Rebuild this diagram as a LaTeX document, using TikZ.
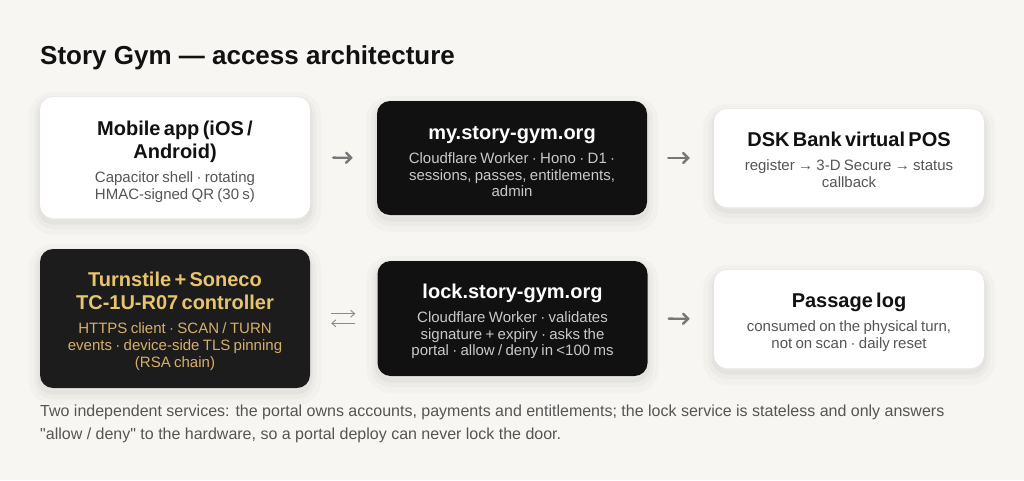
\documentclass[tikz,border=0pt]{standalone}
\usepackage{fontspec}
\setmainfont{Liberation Sans}[Ligatures=TeXOff]
\usetikzlibrary{arrows.meta}
\definecolor{bg}{HTML}{F7F6F3}
\definecolor{ink}{HTML}{111111}
\definecolor{darkfill}{HTML}{111111}
\definecolor{turnfill}{HTML}{1C1C1C}
\definecolor{gold}{HTML}{E9C46F}
\definecolor{golddim}{HTML}{D6B06A}
\definecolor{subgray}{HTML}{555555}
\definecolor{sublight}{HTML}{C9C9C9}
\definecolor{arrowgray}{HTML}{777777}
\definecolor{thingray}{HTML}{8A8A8A}
\newcommand\boxtitle{\fontsize{20}{23}\selectfont\bfseries}
\newcommand\boxsub{\fontsize{15}{16.7}\selectfont\mdseries}
\newcommand\gapts{\par\vskip 7.5pt}
\tikzset{
  card/.style={rounded corners=13pt, minimum width=270pt, inner sep=0pt,
    preaction={draw=black, draw opacity=0.018, line width=22pt, transform canvas={yshift=-6pt}},
    preaction={draw=black, draw opacity=0.022, line width=12pt, transform canvas={yshift=-5pt}},
    preaction={draw=black, draw opacity=0.03, line width=5pt, transform canvas={yshift=-4pt}}},
  whitecard/.style={card, fill=white},
  darkcard/.style={card, fill=darkfill},
  turncard/.style={card, fill=turnfill},
  cardtext/.style={text width=256pt, align=center, inner sep=0pt},
  flow/.style={draw=arrowgray, line width=2.4pt, line cap=round, -{Straight Barb[length=5pt,width=10pt,line cap=round]}},
  swap/.style={draw=thingray, line width=0.9pt, -{Straight Barb[length=4pt,width=7pt]}},
}
\begin{document}
\begin{tikzpicture}[x=1pt,y=-1pt]
\fill[bg] (0,0) rectangle (1024,480);
\useasboundingbox (0,0) rectangle (1024,480);

\node[anchor=base west, inner sep=0pt, font=\fontsize{26}{30}\selectfont\bfseries, text=ink] (title) at (40,64) {Story Gym — access architecture};

\node[whitecard, minimum height=121pt] (mob) at (175,157.5) {};
\node[darkcard, minimum height=114pt] (my) at (512,158) {};
\node[whitecard, minimum height=98pt] (dsk) at (849,158) {};
\node[turncard, minimum height=139pt] (turn) at (175,318.5) {};
\node[darkcard, minimum height=115pt] (lock) at (512.5,318.5) {};
\node[whitecard, minimum height=98pt] (plog) at (849,319) {};

\node[cardtext] (mobt) at ([yshift=-4pt]mob.center)
 {\boxtitle\color{ink}Mobile app (iOS /\\Android)\gapts
  \boxsub\color{subgray}Capacitor shell · rotating\\HMAC-signed QR (30 s)\par};

\node[cardtext] (myt) at ([yshift=-3.5pt]my.center)
 {\boxtitle\color{white}my.story-gym.org\gapts
  \boxsub\color{sublight}Cloudflare Worker · Hono · D1 ·\\sessions, passes, entitlements,\\admin\par};

\node[cardtext] (dskt) at ([yshift=-2pt]dsk.center)
 {\boxtitle\color{ink}DSK Bank virtual POS\gapts
  \boxsub\color{subgray}register → 3-D Secure → status\\callback\par};

\node[cardtext] (turnt) at ([yshift=-2.5pt]turn.center)
 {\boxtitle\color{gold}Turnstile + Soneco\\TC-1U-R07 controller\gapts
  \boxsub\color{golddim}HTTPS client · SCAN / TURN\\events · device-side TLS pinning\\(RSA chain)\par};

\node[cardtext] (lockt) at ([yshift=-3pt]lock.center)
 {\boxtitle\color{white}lock.story-gym.org\gapts
  \boxsub\color{sublight}Cloudflare Worker · validates\\signature + expiry · asks the\\portal · allow / deny in <100 ms\par};

\node[cardtext] (plogt) at ([yshift=-3pt]plog.center)
 {\boxtitle\color{ink}Passage log\gapts
  \boxsub\color{subgray}consumed on the physical turn,\\not on scan · daily reset\par};

\draw[flow, shorten <=23pt, shorten >=24pt] (mob.east) -- (my.west);
\draw[flow, shorten <=21pt, shorten >=24pt] (my.east) -- (dsk.west);
\draw[flow, shorten <=21pt, shorten >=24pt] (lock.east) -- (plog.west);
\draw[swap, shorten <=21pt, shorten >=22pt] ([yshift=4.8pt]turn.east) -- ([yshift=4.8pt]lock.west);
\draw[swap, shorten <=22pt, shorten >=21pt] ([yshift=-4.8pt]lock.west) -- ([yshift=-4.8pt]turn.east);

\node[anchor=base west, inner sep=0pt, font=\fontsize{16}{18}\selectfont, text=subgray] (foot1) at (40,416)
 {Two independent services: the portal owns accounts, payments and entitlements; the lock service is stateless and only answers};
\node[anchor=base west, inner sep=0pt, font=\fontsize{16}{18}\selectfont, text=subgray] (foot2) at (40,439)
 {"allow / deny" to the hardware, so a portal deploy can never lock the door.};
\end{tikzpicture}
\end{document}
